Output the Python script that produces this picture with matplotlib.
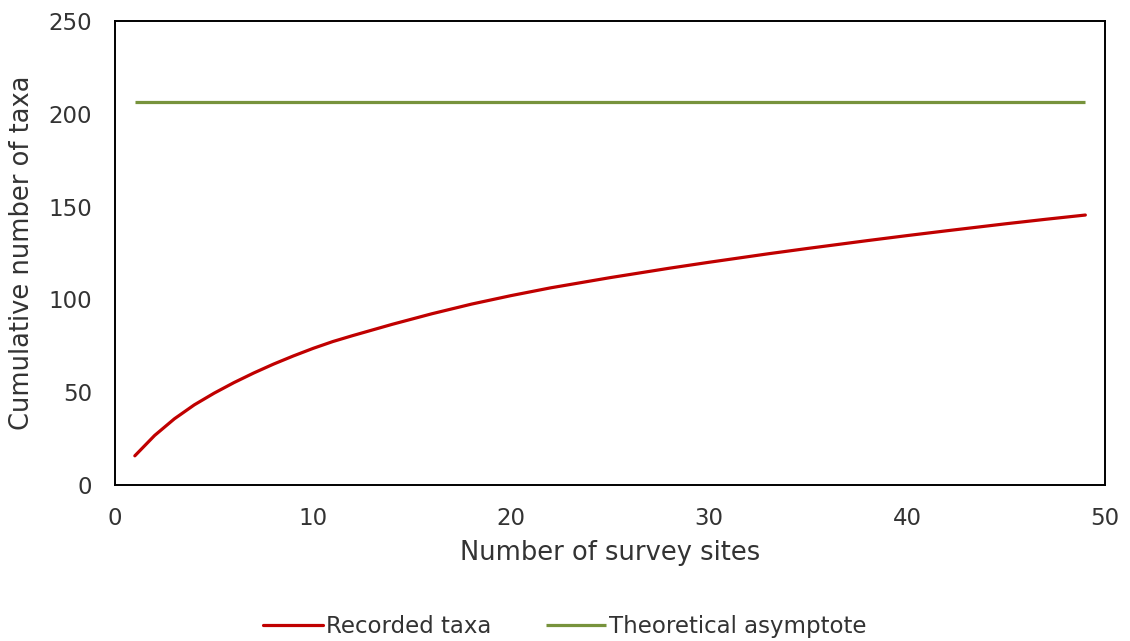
import matplotlib
matplotlib.use("Agg")
import matplotlib.pyplot as plt

# Data
sites = [1, 2, 3, 4, 5, 6, 7, 8, 9, 10, 11, 12, 14, 16, 18, 20, 22, 25,
         28, 30, 33, 35, 38, 40, 42, 45, 47, 49]
recorded = [15.5, 26.5, 35.5, 43.0, 49.3, 55.0, 60.2, 65.0, 69.4, 73.5,
            77.2, 80.4, 86.5, 92.2, 97.4, 102.0, 106.2, 111.7, 116.8, 120.0,
            124.6, 127.5, 131.7, 134.4, 137.0, 140.8, 143.2, 145.5]
asymptote_sites = [1, 49]
asymptote = [206.5, 206.5]

xticks = [0, 10, 20, 30, 40, 50]
yticks = [0, 50, 100, 150, 200, 250]

plt.rcParams["font.family"] = ["DejaVu Sans"]
text_col = "#333333"

fig = plt.figure(figsize=(11.3, 6.41), dpi=100)
ax = fig.add_axes([0.1018, 0.2441, 0.8762, 0.7224])

ax.plot(sites, recorded, color="#C00000", lw=2.3, solid_capstyle="round",
        label="Recorded taxa")
ax.plot(asymptote_sites, asymptote, color="#77933C", lw=2.3,
        solid_capstyle="butt", label="Theoretical asymptote")

ax.set_xlim(0, 50)
ax.set_ylim(0, 250)
ax.set_xticks(xticks)
ax.set_yticks(yticks)
ax.tick_params(length=0, labelsize=16.5, labelcolor=text_col)
ax.tick_params(axis="x", pad=16)
ax.tick_params(axis="y", pad=16.5)
for s in ax.spines.values():
    s.set_color("black")
    s.set_linewidth(1.4)

ax.set_xlabel("Number of survey sites", fontsize=18.5, color=text_col,
              va="center")
ax.set_ylabel("Cumulative number of taxa", fontsize=18.5, color=text_col,
              va="center")
ax.xaxis.set_label_coords(0.5, -0.148)
ax.yaxis.set_label_coords(-0.094, 0.5)

fig.legend(loc="center", bbox_to_anchor=(0.5, 0.022), ncol=2, frameon=False,
           fontsize=16.5, labelcolor=text_col, handlelength=2.6,
           handletextpad=0.15, columnspacing=2.4)

fig.savefig("out.png", dpi=100)
